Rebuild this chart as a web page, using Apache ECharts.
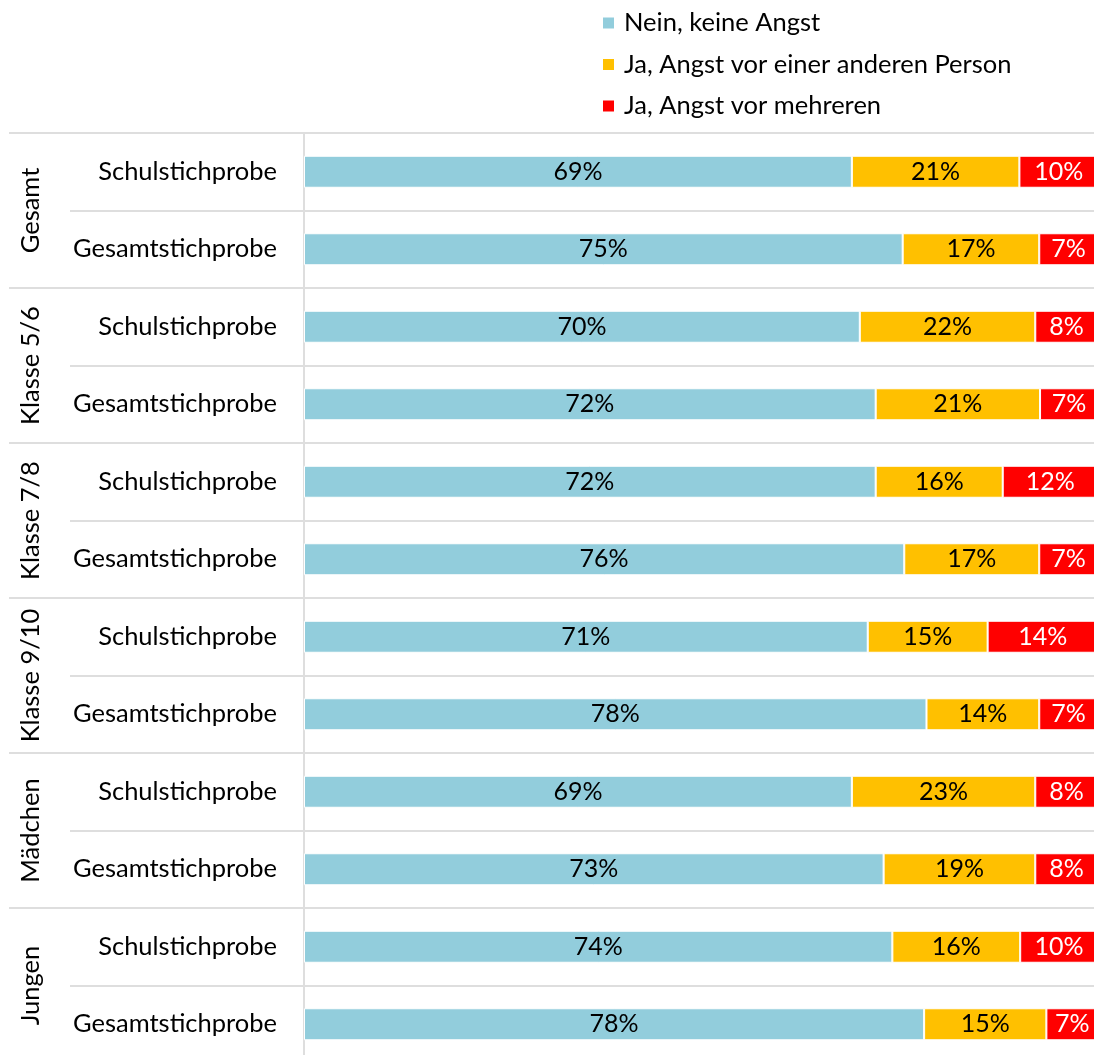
<!DOCTYPE html>
<html>
<head>
<meta charset="utf-8">
<script src="https://cdn.jsdelivr.net/npm/echarts@6/dist/echarts.min.js"></script>
<style>
html,body{margin:0;padding:0;background:#fff;}
#chart{width:1094px;height:1055px;}
</style>
</head>
<body>
<div id="chart"></div>
<script>
var groups = ['Gesamt', 'Klasse 5/6', 'Klasse 7/8', 'Klasse 9/10', 'Mädchen', 'Jungen'];
var rows = ['Schulstichprobe', 'Gesamtstichprobe',
            'Schulstichprobe', 'Gesamtstichprobe',
            'Schulstichprobe', 'Gesamtstichprobe',
            'Schulstichprobe', 'Gesamtstichprobe',
            'Schulstichprobe', 'Gesamtstichprobe',
            'Schulstichprobe', 'Gesamtstichprobe'];
var seriesNames = ['Nein, keine Angst', 'Ja, Angst vor einer anderen Person', 'Ja, Angst vor mehreren'];
var neinKeine = [69.0, 75.4, 70.0, 72.0, 72.0, 75.6, 71.0, 78.4, 69.0, 73.0, 74.1, 78.1];
var jaEinePerson = [21.1, 17.2, 22.1, 20.7, 16.0, 17.0, 15.1, 14.2, 23.1, 19.1, 16.1, 15.4];
var jaMehrere = [9.9, 7.4, 7.9, 7.3, 12.0, 7.4, 13.9, 7.4, 7.9, 7.9, 9.8, 6.5];
var colors = ['#92CDDC', '#FFC000', '#FF0000'];

var FONT = 'Lato';
var FS = 25.5;
var lineColor = '#dedede';
var gridTop = 133, gridH = 930;

function mkSeries(i, data, labelColor) {
  return {
    name: seriesNames[i], type: 'bar', stack: 'all', data: data,
    xAxisIndex: 0, yAxisIndex: 0, barWidth: 32,
    itemStyle: { color: colors[i], borderColor: '#fff', borderWidth: 1 },
    label: {
      show: true, position: 'inside', color: labelColor,
      fontFamily: FONT, fontSize: 25,
      formatter: function (p) { return Math.round(p.value) + '%'; }
    },
    emphasis: { disabled: true }
  };
}

function mkGrid(left, width) {
  var g = { left: left, top: gridTop, height: gridH, outerBoundsMode: 'none', containLabel: false };
  if (width) g.width = width; else g.right = 0;
  return g;
}

var chart = echarts.init(document.getElementById('chart'), null, { renderer: 'canvas' });
chart.setOption({
  animation: false,
  textStyle: { fontFamily: FONT },
  legend: {
    orient: 'vertical', left: 598, top: 5,
    itemWidth: 11, itemHeight: 11, itemGap: 15.5,
    icon: 'rect',
    itemStyle: { borderWidth: 0 },
    textStyle: { fontFamily: FONT, fontSize: FS, color: '#000', lineHeight: 26, padding: [0, 0, 0, 5] },
    data: seriesNames
  },
  grid: [
    mkGrid(304, 794),
    mkGrid(70),
    mkGrid(9),
    mkGrid(70)
  ],
  xAxis: [
    { gridIndex: 0, type: 'value', min: 0, max: 100, show: false },
    { gridIndex: 1, type: 'value', min: 0, max: 100, show: false },
    { gridIndex: 2, type: 'value', min: 0, max: 100, show: false },
    { gridIndex: 3, type: 'value', min: 0, max: 100, show: false }
  ],
  yAxis: [
    { gridIndex: 0, type: 'category', data: rows, inverse: true,
      axisLine: { show: true, lineStyle: { color: lineColor, width: 2 } },
      axisTick: { show: false }, splitLine: { show: false },
      axisLabel: { interval: 0, fontFamily: FONT, fontSize: FS, color: '#000', margin: 27 } },
    { gridIndex: 1, type: 'category', data: rows, inverse: true,
      axisLine: { show: false }, axisTick: { show: false }, axisLabel: { show: false },
      splitLine: { show: true, interval: 0, lineStyle: { color: lineColor, width: 2 } } },
    { gridIndex: 2, type: 'category', data: groups, inverse: true,
      axisLine: { show: false }, axisTick: { show: false }, axisLabel: { show: false },
      splitLine: { show: true, interval: 0, lineStyle: { color: lineColor, width: 2 } } },
    { gridIndex: 3, type: 'category', data: groups, inverse: true,
      axisLine: { show: false }, axisTick: { show: false }, splitLine: { show: false },
      axisLabel: { interval: 0, rotate: 90, fontFamily: FONT, fontSize: FS, color: '#000', margin: 26 } }
  ],
  series: [
    mkSeries(0, neinKeine, '#000'),
    mkSeries(1, jaEinePerson, '#000'),
    mkSeries(2, jaMehrere, '#fff')
  ]
});
</script>
</body>
</html>
